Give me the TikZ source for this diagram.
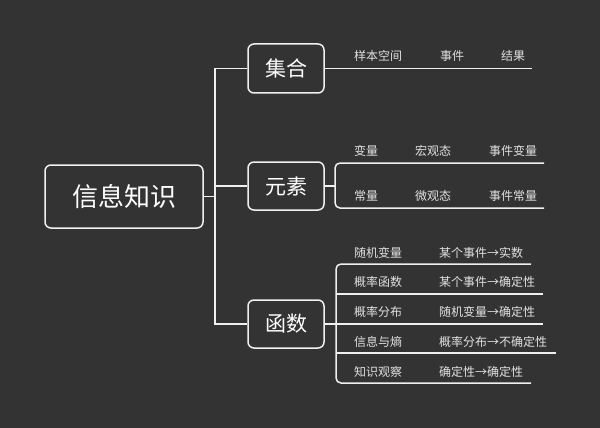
\documentclass[tikz,border=0pt]{standalone}
\usepackage{fontspec}
\setmainfont{Noto Sans CJK SC}
\usepackage{tikz}
\usetikzlibrary{arrows.meta}
\definecolor{mmbg}{RGB}{51,51,51}
\definecolor{mmline}{RGB}{240,240,240}
\definecolor{mmtext}{RGB}{225,225,225}
\tikzset{
  topic/.style={draw=mmline, line width=1.5pt, rounded corners=6pt, text=white, inner sep=0pt},
  leaf/.style={text=mmtext, inner sep=0pt, font=\fontsize{12}{14}\selectfont},
  branch/.style={draw=mmline, line width=1.5pt}
}
\newcommand{\mmtopic}[5] {\node at (#1) (#2) [topic, minimum width=#4, minimum height=#5] {#3};}
\newcommand{\mmleaf}[3] {\node at (#1) (#2) [leaf] {#3};}
\newcommand{\mmleafw}[3] {\node at (#1) (#2) [leaf, anchor=west] {#3};}

\begin{document}
\begin{tikzpicture}[x=1pt,y=-1pt]

\fill [mmbg] (0,0) rectangle (600,428);
\useasboundingbox (0,0) rectangle (600,428);

\mmtopic {124,196.5}{info}{\fontsize{26}{30}\selectfont 信息知识}{158pt}{63pt};
\mmtopic {286,68.5}{set}{\fontsize{21}{24}\selectfont 集合}{76pt}{49pt};
\mmtopic {286,186}{elem}{\fontsize{21}{24}\selectfont 元素}{76pt}{48pt};
\mmtopic {286,324}{func}{\fontsize{21}{24}\selectfont 函数}{76pt}{48pt};

\coordinate (trunk) at (215,196.5);
\draw [branch] (info.east) -- (trunk);
\draw [branch, rounded corners=0pt] (set.west) -| (trunk) |- (func.west);
\draw [branch] (trunk |- elem.west) -- (elem.west);

% 集合
\coordinate (setend) at (532,68.5);
\draw [branch] (set.east) -- (setend);
\mmleaf {378,56}{s1}{样本空间};
\mmleaf {452,56}{s2}{事件};
\mmleaf {513,56}{s3}{结果};

% 元素
\coordinate (efork) at (335,186);
\coordinate (eend1) at (544,163);
\coordinate (eend2) at (544,208);
\draw [branch] (elem.east) -- (efork);
\draw [branch, rounded corners=5pt] (eend1) -- (efork |- eend1) -- (efork |- eend2) -- (eend2);
\mmleaf {366,151}{e11}{变量};
\mmleaf {433,151}{e12}{宏观态};
\mmleaf {513,151}{e13}{事件变量};
\mmleaf {366,196}{e21}{常量};
\mmleaf {433,196}{e22}{微观态};
\mmleaf {513,196}{e23}{事件常量};

% 函数
\coordinate (ffork) at (336,324);
\coordinate (fend1) at (531,264);
\coordinate (fend2) at (543,294);
\coordinate (fend3) at (543,324);
\coordinate (fend4) at (556,353);
\coordinate (fend5) at (531,383);
\draw [branch] (func.east) -- (fend3);
\draw [branch, rounded corners=5pt] (fend1) -- (ffork |- fend1) -- (ffork |- fend5) -- (fend5);
\draw [branch] (ffork |- fend2) -- (fend2);
\draw [branch] (ffork |- fend4) -- (fend4);
\mmleaf {378,253}{f11}{随机变量};
\mmleaf {378,282}{f21}{概率函数};
\mmleaf {378,312}{f31}{概率分布};
\mmleaf {378,342}{f41}{信息与熵};
\mmleaf {378,372}{f51}{知识观察};
\mmleafw {439,253}{f12}{某个事件→实数};
\mmleafw {439,282}{f22}{某个事件→确定性};
\mmleafw {439,312}{f32}{随机变量→确定性};
\mmleafw {439,342}{f42}{概率分布→不确定性};
\mmleafw {439,372}{f52}{确定性→确定性};

\end{tikzpicture}
\end{document}
